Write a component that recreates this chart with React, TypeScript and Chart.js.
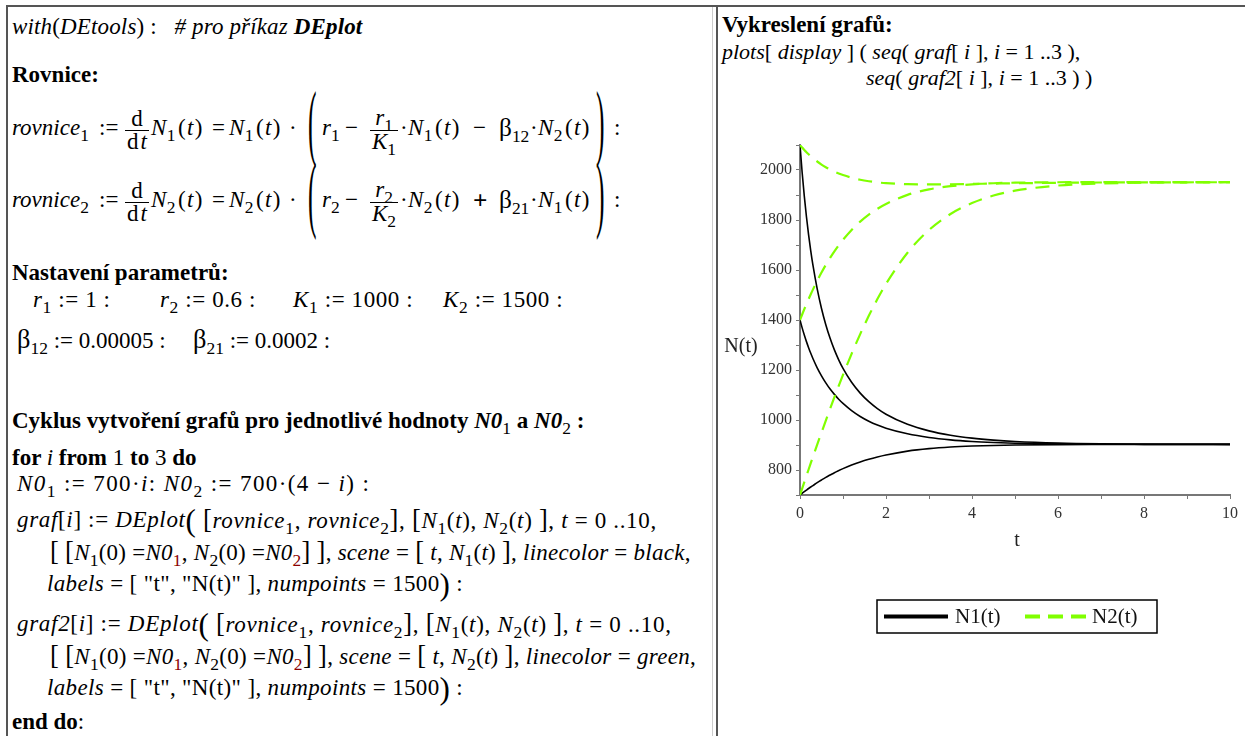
import React, { useEffect, useRef } from "react";
import { Chart, registerables } from "chart.js";

Chart.register(...registerables);

// ---- data ----
const tValues = [0, 0.05, 0.1, 0.15, 0.2, 0.25, 0.3, 0.4, 0.5, 0.6, 0.7, 0.8, 0.9, 1.0, 1.2, 1.4, 1.6, 1.8, 2.0, 2.5, 3, 3.5, 4, 4.5, 5, 6, 7, 8, 9, 10];

// N1(t) curves (black), i = 1..3
const n1Run1 = [700, 706.8, 713.3, 719.7, 726.0, 732.0, 737.8, 749.5, 760.2, 770.5, 779.8, 789.1, 797.5, 805.5, 819.8, 832.2, 842.9, 852.1, 860.0, 875.5, 885.4, 891.8, 895.8, 898.3, 899.9, 901.5, 902.1, 902.3, 902.4, 902.4];
const n1Run2 = [1400, 1368.5, 1340.0, 1313.5, 1289.3, 1266.7, 1246.1, 1208.9, 1176.7, 1148.6, 1123.8, 1102.5, 1083.1, 1066.3, 1037.5, 1014.2, 995.3, 979.8, 967.0, 944.8, 930.1, 920.4, 914.1, 910.0, 907.3, 904.4, 903.2, 902.7, 902.5, 902.4];
const n1Run3 = [2100, 1990.0, 1895.3, 1812.9, 1740.6, 1676.8, 1620.1, 1524.2, 1446.0, 1381.1, 1326.6, 1280.4, 1240.7, 1206.4, 1150.9, 1107.6, 1073.3, 1045.7, 1023.2, 982.6, 956.4, 939.1, 927.4, 919.5, 914.1, 907.8, 904.8, 903.5, 902.9, 902.6];

// N2(t) curves (green, dashed), i = 1..3
const n2Run1 = [2100, 2089.7, 2080.2, 2071.3, 2063.0, 2055.2, 2048.0, 2034.0, 2021.8, 2011.2, 2001.7, 1993.5, 1986.1, 1979.7, 1969.1, 1961.1, 1955.1, 1950.6, 1947.4, 1943.2, 1942.4, 1943.1, 1944.4, 1945.7, 1947.0, 1948.9, 1950.0, 1950.6, 1950.9, 1951.1];
const n2Run2 = [1400, 1422.0, 1443.3, 1463.9, 1483.8, 1503.1, 1521.6, 1556.9, 1589.7, 1620.2, 1648.5, 1674.4, 1698.7, 1720.7, 1760.1, 1793.4, 1821.3, 1844.6, 1864.0, 1900.5, 1922.4, 1935.3, 1942.7, 1947.0, 1949.3, 1951.1, 1951.5, 1951.5, 1951.3, 1951.2];
const n2Run3 = [700, 725.8, 751.4, 776.8, 802.0, 827.1, 852.0, 901.3, 949.9, 997.8, 1044.9, 1091.1, 1136.3, 1180.4, 1264.7, 1343.6, 1416.7, 1483.6, 1544.2, 1669.0, 1760.0, 1823.9, 1867.6, 1897.9, 1917.4, 1937.8, 1946.0, 1949.2, 1950.5, 1951.0];

const xTickLabels = ["0", "2", "4", "6", "8", "10"];
const yTickLabels = ["800", "1000", "1200", "1400", "1600", "1800", "2000"];
const seriesLabels = ["N1(t)", "N2(t)"];
const axisTitles = ["t", "N(t)"];

const SERIF = "'Liberation Serif', 'Times New Roman', serif";
const GREEN = "#80ff00";

// ---- math text helpers ----
function Sub({ children, color }: { children: any; color?: string }) {
  return (
    <span style={{ fontSize: "0.76em", position: "relative", top: "0.4em", color }}>{children}</span>
  );
}

function Fn({ n, s, arg = "t", it = true }: { n: string; s: string; arg?: string; it?: boolean }) {
  return (
    <>
      <i>{n}</i>
      <Sub>{s}</Sub>
      <span style={{ marginLeft: 2 }}>(</span>
      <span style={{ margin: "0 1px" }}>{it ? <i>{arg}</i> : arg}</span>)
    </>
  );
}

function Frac({ n, d }: { n: any; d: any }) {
  return (
    <span
      style={{
        display: "inline-flex",
        flexDirection: "column",
        alignItems: "stretch",
        position: "relative",
        top: 2,
      }}
    >
      <span style={{ textAlign: "center", lineHeight: "22px", padding: "0 2px" }}>{n}</span>
      <span style={{ borderTop: "1.3px solid #000" }} />
      <span style={{ textAlign: "center", lineHeight: "22px", padding: "0 2px" }}>{d}</span>
    </span>
  );
}

function BigParen({ c, size = 3.7 }: { c: string; size?: number }) {
  return (
    <span
      style={{
        fontSize: `${size}em`,
        lineHeight: 1,
        display: "inline-block",
        transform: "scaleX(0.3)",
        position: "relative",
        top: "-0.079em",
        margin: "0 -0.09em",
      }}
    >
      {c}
    </span>
  );
}

function Mid({ c, size = 1.35 }: { c: string; size?: number }) {
  return (
    <span style={{ fontSize: `${size}em`, lineHeight: "26px", position: "relative", top: "0.02em" }}>{c}</span>
  );
}

function Row({ x, y, h = 30, ls = 0, children }: { x: number; y: number; h?: number; ls?: number; children: any }) {
  return (
    <div
      style={{
        position: "absolute",
        left: x,
        top: y - h / 2,
        height: h,
        display: "flex",
        alignItems: "center",
        whiteSpace: "pre",
        lineHeight: "26px",
        letterSpacing: ls,
      }}
    >
      {children}
    </div>
  );
}

function Equation({ y, k, other, op }: { y: number; k: string; other: string; op: string }) {
  return (
    <>
      <Row x={12} y={y}>
        <span>
          <i>rovnice</i>
          <Sub>{k}</Sub>
        </span>
      </Row>
      <Row x={99} y={y}>
        <span>:=</span>
      </Row>
      <Row x={125} y={y} h={90}>
        <Frac
          n={<span>d</span>}
          d={
            <span>
              d<span style={{ marginLeft: 2 }} />
              <i>t</i>
            </span>
          }
        />
      </Row>
      <Row x={151} y={y} ls={0.4}>
        <span>
          <Fn n="N" s={k} />
        </span>
      </Row>
      <Row x={212} y={y}>
        <span>=</span>
      </Row>
      <Row x={229} y={y} ls={0.4}>
        <span>
          <Fn n="N" s={k} />
        </span>
      </Row>
      <Row x={289} y={y}>
        <span>·</span>
      </Row>
      <Row x={306} y={y} h={96}>
        <BigParen c="(" />
      </Row>
      <Row x={322} y={y}>
        <span>
          <i>r</i>
          <Sub>{k}</Sub>
        </span>
      </Row>
      <Row x={345} y={y}>
        <span>−</span>
      </Row>
      <Row x={370} y={y} h={90}>
        <Frac
          n={
            <span>
              <i>r</i>
              <Sub>{k}</Sub>
            </span>
          }
          d={
            <span>
              <i>K</i>
              <Sub>{k}</Sub>
            </span>
          }
        />
      </Row>
      <Row x={400} y={y} ls={0.4}>
        <span>
          ·<Fn n="N" s={k} />
        </span>
      </Row>
      <Row x={473} y={y}>
        {op === "+" ? <b style={{ fontSize: "1.1em" }}>+</b> : <span>−</span>}
      </Row>
      <Row x={499} y={y}>
        <span>
          <span style={{ fontSize: "1.1em" }}>β</span>
          <Sub>{k === "1" ? "12" : "21"}</Sub>
        </span>
      </Row>
      <Row x={530} y={y} ls={0.4}>
        <span>
          ·<Fn n="N" s={other} />
        </span>
      </Row>
      <Row x={594} y={y} h={96}>
        <BigParen c=")" />
      </Row>
      <Row x={614} y={y}>
        <span>:</span>
      </Row>
    </>
  );
}

function LeftPanel() {
  return (
    <>
      <Row x={12} y={27} ls={0.15}>
        <span>
          <i>with</i>(<i>DEtools</i>) :   <i># pro příkaz </i>
          <b>
            <i>DEplot</i>
          </b>
        </span>
      </Row>
      <Row x={12} y={75}>
        <b>Rovnice:</b>
      </Row>

      <Equation y={128} k="1" other="2" op="-" />
      <Equation y={200} k="2" other="1" op="+" />

      <Row x={12} y={273}>
        <b>Nastavení parametrů:</b>
      </Row>
      <Row x={33} y={300} ls={0.6}>
        <span>
          <i>r</i>
          <Sub>1</Sub> := 1 :
        </span>
      </Row>
      <Row x={160} y={300} ls={0.6}>
        <span>
          <i>r</i>
          <Sub>2</Sub> := 0.6 :
        </span>
      </Row>
      <Row x={293} y={300} ls={0.6}>
        <span>
          <i>K</i>
          <Sub>1</Sub> := 1000 :
        </span>
      </Row>
      <Row x={443} y={300} ls={0.6}>
        <span>
          <i>K</i>
          <Sub>2</Sub> := 1500 :
        </span>
      </Row>
      <Row x={17} y={340}>
        <span>
          <span style={{ fontSize: "1.15em" }}>β</span>
          <Sub>12</Sub> := 0.00005 :
        </span>
      </Row>
      <Row x={193} y={340}>
        <span>
          <span style={{ fontSize: "1.15em" }}>β</span>
          <Sub>21</Sub> := 0.0002 :
        </span>
      </Row>

      <Row x={12} y={421}>
        <span>
          <b>Cyklus vytvoření grafů pro jednotlivé hodnoty </b>
          <b>
            <i>N0</i>
          </b>
          <Sub>1</Sub>
          <b> a </b>
          <b>
            <i>N0</i>
          </b>
          <Sub>2</Sub>
          <b> :</b>
        </span>
      </Row>
      <Row x={12} y={458}>
        <span>
          <b>for </b>
          <i>i</i>
          <b> from </b>1<b> to </b>3<b> do</b>
        </span>
      </Row>
      <Row x={17} y={484} ls={1.4}>
        <span>
          <i>N0</i>
          <Sub>1</Sub> := 700·<i>i</i>: <i>N0</i>
          <Sub>2</Sub> := 700·(4 − <i>i</i>) :
        </span>
      </Row>

      <Row x={17} y={520} h={40} ls={0.66}>
        <span>
          <i>graf</i>[<i>i</i>] := <i>DEplot</i>
        </span>
        <Mid c="(" />
        <span>
          {" "}
          <Mid c="[" size={1.15} />
          <i>rovnice</i>
          <Sub>1</Sub>, <i>rovnice</i>
          <Sub>2</Sub>
          <Mid c="]" size={1.15} />, <Mid c="[" size={1.15} />
          <i>N</i>
          <Sub>1</Sub>(<i>t</i>), <i>N</i>
          <Sub>2</Sub>(<i>t</i>) <Mid c="]" size={1.15} />, <i>t</i> = 0 ..10,
        </span>
      </Row>
      <Row x={50} y={552} h={40} ls={0.25}>
        <span>
          <Mid c="[" size={1.15} /> <Mid c="[" size={1.15} />
          <i>N</i>
          <Sub>1</Sub>(0) =<i>N0</i>
          <Sub color="#8b0000">1</Sub>, <i>N</i>
          <Sub>2</Sub>(0) =<i>N0</i>
          <Sub color="#8b0000">2</Sub>
          <Mid c="]" size={1.15} /> <Mid c="]" size={1.15} />, <i>scene</i> = <Mid c="[" size={1.15} /> <i>t</i>, <i>N</i>
          <Sub>1</Sub>(<i>t</i>) <Mid c="]" size={1.15} />, <i>linecolor</i> = <i>black</i>,
        </span>
      </Row>
      <Row x={47} y={584} h={40} ls={0.35}>
        <span>
          <i>labels</i> = [ "t", "N(t)" ], <i>numpoints</i> = 1500
        </span>
        <Mid c=")" />
        <span> :</span>
      </Row>

      <Row x={17} y={624} h={40} ls={0.7}>
        <span>
          <i>graf2</i>[<i>i</i>] := <i>DEplot</i>
        </span>
        <Mid c="(" />
        <span>
          {" "}
          <Mid c="[" size={1.15} />
          <i>rovnice</i>
          <Sub>1</Sub>, <i>rovnice</i>
          <Sub>2</Sub>
          <Mid c="]" size={1.15} />, <Mid c="[" size={1.15} />
          <i>N</i>
          <Sub>1</Sub>(<i>t</i>), <i>N</i>
          <Sub>2</Sub>(<i>t</i>) <Mid c="]" size={1.15} />, <i>t</i> = 0 ..10,
        </span>
      </Row>
      <Row x={50} y={656} h={40} ls={0.3}>
        <span>
          <Mid c="[" size={1.15} /> <Mid c="[" size={1.15} />
          <i>N</i>
          <Sub>1</Sub>(0) =<i>N0</i>
          <Sub color="#8b0000">1</Sub>, <i>N</i>
          <Sub>2</Sub>(0) =<i>N0</i>
          <Sub color="#8b0000">2</Sub>
          <Mid c="]" size={1.15} /> <Mid c="]" size={1.15} />, <i>scene</i> = <Mid c="[" size={1.15} /> <i>t</i>, <i>N</i>
          <Sub>2</Sub>(<i>t</i>) <Mid c="]" size={1.15} />, <i>linecolor</i> = <i>green</i>,
        </span>
      </Row>
      <Row x={47} y={688} h={40} ls={0.35}>
        <span>
          <i>labels</i> = [ "t", "N(t)" ], <i>numpoints</i> = 1500
        </span>
        <Mid c=")" />
        <span> :</span>
      </Row>
      <Row x={12} y={722}>
        <b>end do</b>
        <span>:</span>
      </Row>
    </>
  );
}

function RightHeader() {
  return (
    <>
      <Row x={722} y={25}>
        <b>Vykreslení grafů:</b>
      </Row>
      <Row x={722} y={52}>
        <span style={{ fontSize: 22 }}>
          <i>plots</i>[ <i>display</i> ] ( <i>seq</i>( <i>graf</i>[ <i>i</i> ], <i>i</i> = 1 ..3 ),
        </span>
      </Row>
      <Row x={866} y={78}>
        <span style={{ fontSize: 22 }}>
          <i>seq</i>( <i>graf2</i>[ <i>i</i> ], <i>i</i> = 1 ..3 ) )
        </span>
      </Row>
    </>
  );
}

const decorPlugin = {
  id: "mapleDecor",
  afterDraw(chart: any) {
    const ctx = chart.ctx;
    const ca = chart.chartArea;
    ctx.save();
    ctx.fillStyle = "#222";
    ctx.font = `20px ${SERIF}`;
    ctx.textAlign = "center";
    ctx.textBaseline = "middle";
    ctx.fillText(axisTitles[1], ca.left - 59, ca.top + 202);
    ctx.fillText(axisTitles[0], (ca.left + ca.right) / 2 + 2, ca.bottom + 46);

    // legend box
    const bx = ca.left + 77;
    const by = ca.bottom + 105;
    const bw = 280;
    const bh = 33;
    ctx.strokeStyle = "#000";
    ctx.lineWidth = 1.5;
    ctx.strokeRect(bx, by, bw, bh);
    const cy = by + bh / 2;
    ctx.lineWidth = 4;
    ctx.setLineDash([]);
    ctx.strokeStyle = "#000";
    ctx.beginPath();
    ctx.moveTo(bx + 7, cy);
    ctx.lineTo(bx + 71, cy);
    ctx.stroke();
    ctx.font = `21px ${SERIF}`;
    ctx.textAlign = "left";
    ctx.fillStyle = "#111";
    ctx.fillText(seriesLabels[0], bx + 78, cy + 1);
    ctx.strokeStyle = GREEN;
    ctx.setLineDash([15, 8]);
    ctx.beginPath();
    ctx.moveTo(bx + 148, cy);
    ctx.lineTo(bx + 209, cy);
    ctx.stroke();
    ctx.setLineDash([]);
    ctx.fillText(seriesLabels[1], bx + 215, cy + 1);
    ctx.restore();
  },
};

function ChartPanel() {
  const ref = useRef<HTMLCanvasElement | null>(null);
  useEffect(() => {
    if (!ref.current) return;
    const pts = (vals: number[]) => tValues.map((t, i) => ({ x: t, y: vals[i] }));
    const green = [n2Run1, n2Run2, n2Run3].map((s) => ({
      label: seriesLabels[1],
      data: pts(s),
      borderColor: GREEN,
      borderWidth: 2.2,
      borderDash: [14, 9],
      pointRadius: 0,
      cubicInterpolationMode: "monotone" as const,
      fill: false,
    }));
    const black = [n1Run1, n1Run2, n1Run3].map((s) => ({
      label: seriesLabels[0],
      data: pts(s),
      borderColor: "#000",
      borderWidth: 1.6,
      pointRadius: 0,
      cubicInterpolationMode: "monotone" as const,
      fill: false,
    }));
    const tickFont = { family: SERIF, size: 16 };
    const chart = new Chart(ref.current, {
      type: "line",
      data: { datasets: [...green, ...black] as any },
      options: {
        responsive: false,
        animation: false,
        devicePixelRatio: 1,
        layout: { padding: { left: 0, right: 15, top: 45, bottom: 115 } },
        plugins: { legend: { display: false }, tooltip: { enabled: false }, title: { display: false } },
        scales: {
          x: {
            type: "linear",
            min: 0,
            max: 10,
            afterFit: (s: any) => {
              s.height = 50;
              s.paddingLeft = 0;
              s.paddingRight = 0;
            },
            ticks: {
              stepSize: 1,
              autoSkip: false,
              maxRotation: 0,
              padding: 5,
              color: "#333",
              font: tickFont,
              callback: (v: any) => (xTickLabels.includes(String(v)) ? String(v) : ""),
            },
            grid: { drawOnChartArea: false, drawTicks: true, tickLength: 4, color: "#777" },
            border: { color: "#777", width: 2 },
          },
          y: {
            type: "linear",
            min: 700,
            max: 2100,
            afterFit: (s: any) => {
              s.width = 83;
              s.paddingTop = 0;
              s.paddingBottom = 0;
            },
            ticks: {
              stepSize: 100,
              autoSkip: false,
              padding: 4,
              color: "#333",
              font: tickFont,
              callback: (v: any) => (yTickLabels.includes(String(v)) ? String(v) : ""),
            },
            grid: { drawOnChartArea: false, drawTicks: true, tickLength: 4, color: "#777" },
            border: { color: "#777", width: 2 },
          },
        },
      } as any,
      plugins: [decorPlugin],
    });
    return () => chart.destroy();
  }, []);
  return (
    <canvas
      ref={ref}
      width={528}
      height={560}
      style={{ position: "absolute", left: 717, top: 100, width: 528, height: 560 }}
    />
  );
}

export default function App() {
  return (
    <div
      style={{
        position: "absolute",
        left: 0,
        top: 0,
        width: 1245,
        height: 736,
        overflow: "hidden",
        background: "#fff",
        fontFamily: SERIF,
        fontSize: 23,
        color: "#000",
      }}
    >
      <div style={{ position: "absolute", left: 6, top: 5, width: 1239, height: 2, background: "#555" }} />
      <div style={{ position: "absolute", left: 6, top: 5, width: 2, height: 731, background: "#555" }} />
      <div style={{ position: "absolute", left: 712, top: 7, width: 1, height: 729, background: "#ccc" }} />
      <div style={{ position: "absolute", left: 716, top: 5, width: 2, height: 731, background: "#555" }} />
      <LeftPanel />
      <RightHeader />
      <ChartPanel />
    </div>
  );
}
